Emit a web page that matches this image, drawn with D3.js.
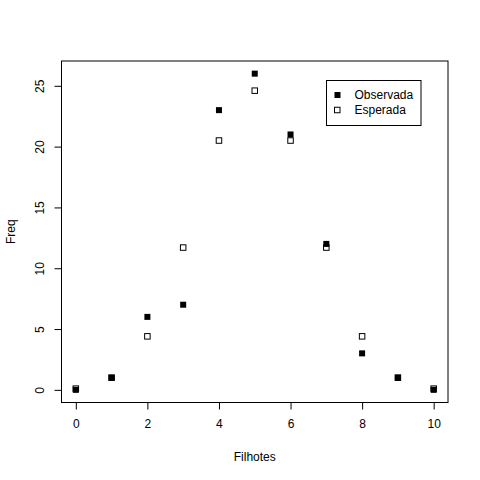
<!DOCTYPE html>
<html>
<head>
<meta charset="utf-8">
<script src="https://cdn.jsdelivr.net/npm/d3@7"></script>
<style>
  body { margin: 0; background: #fff; }
  text { font-family: "Liberation Sans", Arial, sans-serif; font-size: 12px; fill: #000; }
</style>
</head>
<body>
<svg id="chart" width="480" height="480"></svg>
<script>
// data
var filhotes = [0, 1, 2, 3, 4, 5, 6, 7, 8, 9, 10];
var observada = [0, 1, 6, 7, 23, 26, 21, 12, 3, 1, 0];
var esperada = [0.1, 1.0, 4.4, 11.7, 20.5, 24.6, 20.5, 11.7, 4.4, 1.0, 0.1];
var xTicks = [0, 2, 4, 6, 8, 10];
var yTicks = [0, 5, 10, 15, 20, 25];
var legendLabels = ["Observada", "Esperada"];

var svg = d3.select("#chart");
// plot box edges (names avoid window.top)
var boxL = 61.5, boxR = 448, boxT = 61, boxB = 402.5;

// R style 4% padding on both axes
var x = d3.scaleLinear().domain([-0.4, 10.4]).range([boxL, boxR]);
var y = d3.scaleLinear().domain([-1.04, 27.04]).range([boxB, boxT]);

svg.append("rect").attr("width", 480).attr("height", 480).attr("fill", "#fff");

// plot box
svg.append("rect")
  .attr("x", boxL).attr("y", boxT)
  .attr("width", boxR - boxL).attr("height", boxB - boxT)
  .attr("fill", "none").attr("stroke", "#000").attr("stroke-width", 1);

// x axis
var xAxis = svg.append("g").attr("transform", "translate(0," + boxB + ")")
  .call(d3.axisBottom(x).tickValues(xTicks).tickSize(7).tickPadding(10).tickFormat(d3.format("d")));
xAxis.select(".domain")
  .attr("d", "M" + x(0) + ",0H" + x(10));
xAxis.selectAll("text").style("font-family", "Liberation Sans, Arial, sans-serif").style("font-size", "12px");

// y axis
var yAxis = svg.append("g").attr("transform", "translate(" + boxL + ",0)")
  .call(d3.axisLeft(y).tickValues(yTicks).tickSize(7).tickFormat(d3.format("d")));
yAxis.select(".domain")
  .attr("d", "M0," + y(0) + "V" + y(25));
yAxis.selectAll(".tick text")
  .attr("x", 0).attr("dy", null)
  .attr("transform", "translate(-22,0) rotate(-90)")
  .attr("text-anchor", "middle").attr("dominant-baseline", "central")
  .style("font-family", "Liberation Sans, Arial, sans-serif").style("font-size", "12px");
svg.selectAll(".domain, .tick line").attr("stroke", "#000");

// axis titles
svg.append("text").attr("x", (boxL + boxR) / 2).attr("y", 461)
  .attr("text-anchor", "middle").text("Filhotes");
svg.append("text").attr("transform", "translate(15," + ((boxT + boxB) / 2) + ") rotate(-90)")
  .attr("text-anchor", "middle").text("Freq");

// expected first, observed drawn over it
svg.selectAll(".esp")
  .data(filhotes)
  .enter().append("rect")
  .attr("class", "esp")
  .attr("x", function(d, i) { return x(d) - 2.75; })
  .attr("y", function(d, i) { return y(esperada[i]) - 2.75; })
  .attr("width", 5.5).attr("height", 5.5)
  .attr("fill", "none").attr("stroke", "#000").attr("stroke-width", 1);

svg.selectAll(".obs")
  .data(filhotes)
  .enter().append("rect")
  .attr("class", "obs")
  .attr("x", function(d, i) { return x(d) - 3; })
  .attr("y", function(d, i) { return y(observada[i]) - 3; })
  .attr("width", 6).attr("height", 6)
  .attr("fill", "#000");

// legend
var lg = svg.append("g").attr("transform", "translate(326.5,80.5)");
lg.append("rect").attr("width", 94.5).attr("height", 45)
  .attr("fill", "#fff").attr("stroke", "#000");
lg.selectAll(".lab")
  .data(legendLabels)
  .enter().append("text")
  .attr("x", 28).attr("y", function(d, i) { return 14.5 + i * 15; })
  .attr("dominant-baseline", "central")
  .text(function(d) { return d; });
lg.append("rect").attr("x", 8).attr("y", 11.5).attr("width", 6).attr("height", 6).attr("fill", "#000");
lg.append("rect").attr("x", 8).attr("y", 26.75).attr("width", 5.5).attr("height", 5.5)
  .attr("fill", "none").attr("stroke", "#000");
</script>
</body>
</html>
